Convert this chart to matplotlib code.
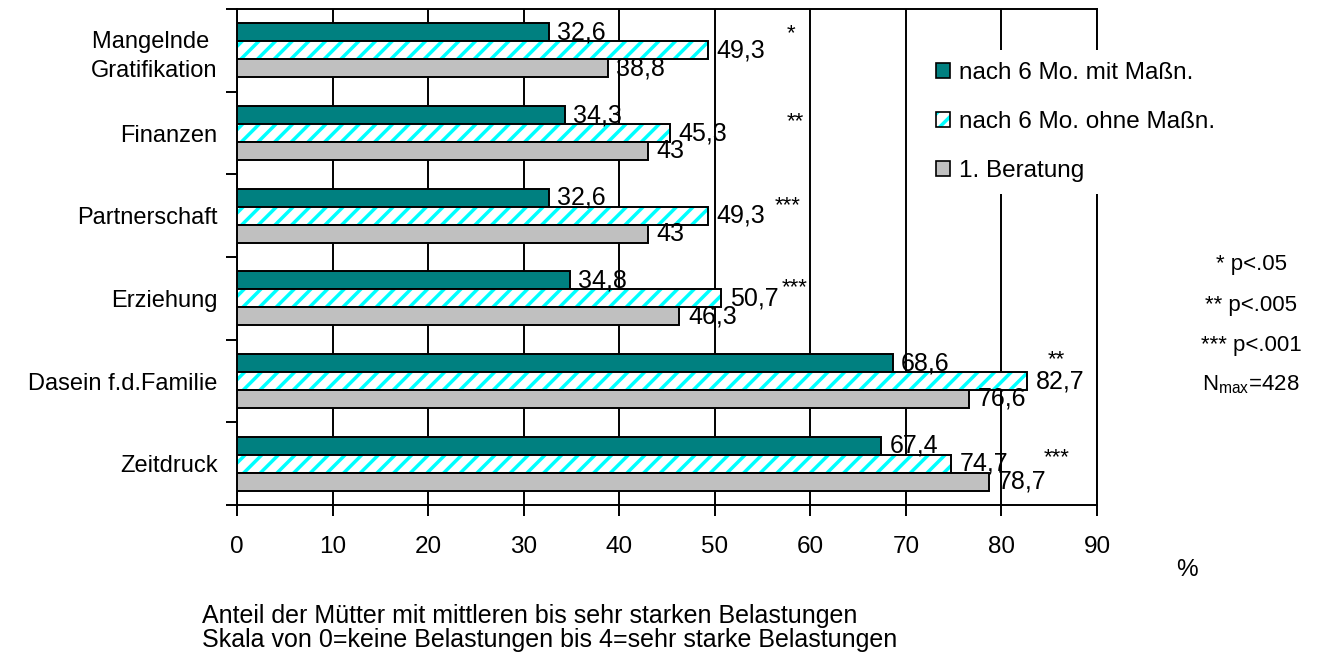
import matplotlib.pyplot as plt
from matplotlib.patches import Patch
import numpy as np

plt.rcParams['font.family'] = ['Liberation Sans', 'DejaVu Sans']
plt.rcParams['mathtext.fontset'] = 'custom'
plt.rcParams['mathtext.rm'] = 'Liberation Sans'
plt.rcParams['hatch.linewidth'] = 2.5

# Daten
categories = ['Mangelnde \nGratifikation', 'Finanzen', 'Partnerschaft',
              'Erziehung', 'Dasein f.d.Familie', 'Zeitdruck']
mit_massn = [32.6, 34.3, 32.6, 34.8, 68.6, 67.4]     # nach 6 Mo. mit Maßn.
ohne_massn = [49.3, 45.3, 49.3, 50.7, 82.7, 74.7]    # nach 6 Mo. ohne Maßn.
beratung = [38.8, 43, 43, 46.3, 76.6, 78.7]          # 1. Beratung
signif = ['*', '**', '***', '***', '**', '***']
legend_labels = ['nach 6 Mo. mit Maßn.', 'nach 6 Mo. ohne Maßn.', '1. Beratung']
notes = ['* p<.05', '** p<.005', '*** p<.001', r'N$_{\mathrm{max}}$=428']

teal = '#008080'
grey = '#C0C0C0'
cyan = '#00FFFF'

fig = plt.figure(figsize=(13.19, 6.61), dpi=100)
ax = fig.add_axes([237/1319, 1 - 505/661, 860/1319, 496/661])

y = np.arange(len(categories))
h = 0.217
lw = 1.4

ax.barh(y - h, mit_massn, height=h, color=teal, edgecolor='black', linewidth=lw, zorder=3)
# gestreifte Balken: Schraffur in Cyan, Rand schwarz
ax.barh(y, ohne_massn, height=h, color='white', edgecolor=cyan, hatch='//', linewidth=0, zorder=3)
ax.barh(y, ohne_massn, height=h, color='none', edgecolor='black', linewidth=lw, zorder=3)
ax.barh(y + h, beratung, height=h, color=grey, edgecolor='black', linewidth=lw, zorder=3)

# Werte an den Balken
def fmt(v):
    s = ('%.1f' % v).replace('.', ',')
    return s[:-2] if s.endswith(',0') else s

for vals, off in [(mit_massn, -h), (ohne_massn, 0), (beratung, h)]:
    for i, v in enumerate(vals):
        ax.text(v + 0.9, i + off, fmt(v), ha='left', va='center', fontsize=18, zorder=4)

# Signifikanzsterne
star_x = [58.0, 58.4, 57.6, 58.4, 85.7, 85.8]
star_dy = [-0.28, -0.22, -0.21, -0.21, -0.34, -0.16]
for i, s in enumerate(signif):
    ax.text(star_x[i], i + star_dy[i] + 0.15, s, ha='center', va='baseline', fontsize=16, zorder=4)

ax.set_xlim(0, 90)
ax.set_ylim(len(categories) - 0.5, -0.5)
ax.set_xticks(range(0, 91, 10))
ax.tick_params(axis='x', length=8, width=lw, pad=14.5, labelsize=17.5, direction='out')
ax.set_yticks(np.arange(-0.5, len(categories), 1))
ax.set_yticklabels([])
ax.tick_params(axis='y', which='major', length=8, width=lw, direction='out')
ax.set_yticks(y, minor=True)
ax.set_yticklabels(categories, minor=True, fontsize=17, multialignment='center', linespacing=1.45)
ax.tick_params(axis='y', which='minor', length=0, pad=14)
ax.grid(axis='x', color='black', linewidth=lw, zorder=0)
ax.set_axisbelow(True)
for sp in ax.spines.values():
    sp.set_linewidth(lw)
    sp.set_color('black')

handles = [Patch(facecolor=teal, edgecolor='black', linewidth=1.2),
           (Patch(facecolor='white', edgecolor=cyan, linewidth=0, hatch='//'),
            Patch(facecolor='none', edgecolor='black', linewidth=1.2)),
           Patch(facecolor=grey, edgecolor='black', linewidth=1.2)]
leg = ax.legend(handles, legend_labels, loc='upper left', bbox_to_anchor=(0.799, 0.917),
                fontsize=17.5, frameon=True, fancybox=False, edgecolor='none',
                facecolor='white', framealpha=1, handlelength=0.55, handleheight=0.55,
                handletextpad=0.4, labelspacing=1.1, borderpad=0.5, borderaxespad=0)
leg.set_zorder(10)

for k, t in enumerate(notes):
    fig.text(1251/1319, 1 - (265 + 40*k)/661, t, ha='center', va='center', fontsize=16)

fig.text(1187/1319, 1 - 570/661, '%', ha='center', va='center', fontsize=17.5)
fig.text(202/1319, 1 - 616/661, 'Anteil der Mütter mit mittleren bis sehr starken Belastungen',
         ha='left', va='center', fontsize=18)
fig.text(202/1319, 1 - 640/661, 'Skala von 0=keine Belastungen bis 4=sehr starke Belastungen',
         ha='left', va='center', fontsize=18)

plt.savefig('out.png', dpi=100)
